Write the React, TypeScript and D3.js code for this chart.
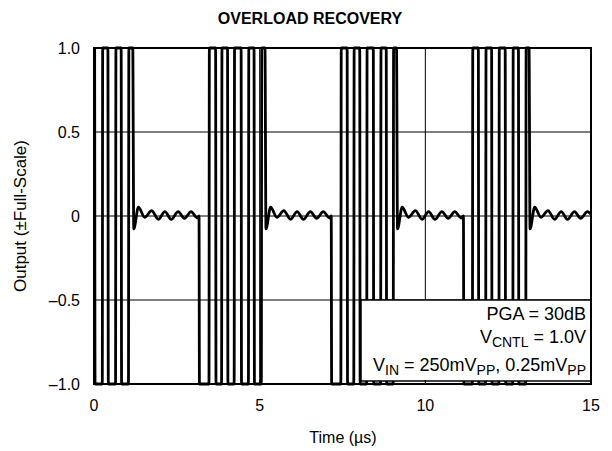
import React from 'react';
import * as d3 from 'd3';

// ---- data ----
const xTicks = [0, 5, 10, 15];
const xTickLabels = ['0', '5', '10', '15'];
const yTicks = [1.0, 0.5, 0, -0.5, -1.0];
const yTickLabels = ['1.0', '0.5', '0', '–0.5', '–1.0'];
const xGrid = [5, 10];
const yGrid = [0.5, 0, -0.5];

// toggle times (µs) of the clipped output inside each burst
const burst1Edges = [0.02, 0.25, 0.42, 0.65, 0.82, 1.04];
const burst2Edges = [3.17, 3.47, 3.67, 3.85, 4.03, 4.23, 4.44, 4.66, 4.83, 5.05];
const burst3Edges = [7.16, 7.45, 7.64, 7.84, 8.02, 8.23, 8.43, 8.65, 8.82, 9.03];
const burst4Edges = [11.15, 11.42, 11.6, 11.82, 12.0, 12.22, 12.41, 12.64, 12.81, 13.03];
// time at which each burst ends and the recovery ringing begins
const burstEnds = [1.17, 5.16, 9.13, 13.13];
// recovery ringing after a burst: offset from burst end (µs) and value (±FS)
const ringOffsets = [0.03, 0.17, 0.36, 0.57, 0.77, 0.97, 1.16, 1.37, 1.56, 1.76, 1.95];
const ringValues = [-0.077, 0.052, -0.008, 0.032, -0.02, 0.026, -0.02, 0.026, -0.014, 0.026, -0.012];

const W = 612;
const H = 451;
const M = { left: 94, right: 591, top: 48, bottom: 384 };

export default function App() {
  const x = d3.scaleLinear().domain([0, 15]).range([M.left, M.right]);
  const y = d3.scaleLinear().domain([-1, 1]).range([M.bottom, M.top]);

  const bursts = [burst1Edges, burst2Edges, burst3Edges, burst4Edges];
  const RISE = 0.012;
  const pts: [number, number][] = [];
  bursts.forEach((edges, i) => {
    const n = edges.length;
    const levelAfter = (j: number) => ((n - 1 - j) % 2 === 0 ? 1 : -1);
    edges.forEach((e, j) => {
      let prev: number;
      if (j === 0) prev = i === 0 ? -levelAfter(0) : 0;
      else prev = levelAfter(j - 1);
      pts.push([e, prev]);
      pts.push([e + RISE, levelAfter(j)]);
    });
    const end = burstEnds[i];
    pts.push([end, 1]);
    const nextStart = i < bursts.length - 1 ? bursts[i + 1][0] : 15.2;
    ringOffsets.forEach((o, k) => {
      const t = end + o;
      if (t < nextStart - 0.02) pts.push([t, ringValues[k]]);
    });
  });

  const line = d3
    .line<[number, number]>()
    .x((d) => x(d[0]))
    .y((d) => y(d[1]))
    .curve(d3.curveMonotoneX);

  const font = 'Liberation Sans, Arial, Helvetica, sans-serif';
  const lx = 586;

  return (
    <svg
      width={W}
      height={H}
      style={{ position: 'absolute', left: 0, top: 0, background: '#fff' }}
      fontFamily={font}
    >
      <defs>
        <clipPath id="plotclip">
          <rect x={M.left} y={M.top - 3} width={M.right - M.left} height={M.bottom - M.top + 6} />
        </clipPath>
      </defs>
      <rect x={0} y={0} width={W} height={H} fill="#fff" />
      <text x={310} y={24} textAnchor="middle" fontSize={16} fontWeight="bold" fill="#000">
        OVERLOAD RECOVERY
      </text>

      {/* grid */}
      {yGrid.map((v) => (
        <line key={'gy' + v} x1={M.left} x2={M.right} y1={y(v)} y2={y(v)} stroke="#000" strokeWidth={1} />
      ))}
      {xGrid.map((v) => (
        <line key={'gx' + v} x1={x(v)} x2={x(v)} y1={M.top} y2={M.bottom} stroke="#000" strokeWidth={1} />
      ))}

      {/* waveform */}
      <path
        d={line(pts) || ''}
        fill="none"
        stroke="#000"
        strokeWidth={2.8}
        strokeLinejoin="round"
        clipPath="url(#plotclip)"
      />

      {/* legend box */}
      <rect x={361} y={y(-0.5)} width={M.right - 361} height={381 - y(-0.5)} fill="#fff" stroke="#000" strokeWidth={1.5} />
      <text x={lx} y={320} textAnchor="end" fontSize={18} fill="#000">
        PGA = 30dB
      </text>
      <text x={lx} y={343} textAnchor="end" fontSize={18} fill="#000">
        V<tspan fontSize={14} dy={4}>CNTL</tspan>
        <tspan dy={-4}> = 1.0V</tspan>
      </text>
      <text x={lx} y={371} textAnchor="end" fontSize={18} fill="#000">
        V<tspan fontSize={14} dy={4}>IN</tspan>
        <tspan dy={-4}> = 250mV</tspan>
        <tspan fontSize={14} dy={4}>PP</tspan>
        <tspan dy={-4}>, 0.25mV</tspan>
        <tspan fontSize={14} dy={4}>PP</tspan>
      </text>

      {/* frame */}
      <rect x={M.left} y={M.top} width={M.right - M.left} height={M.bottom - M.top} fill="none" stroke="#000" strokeWidth={2} />
      {xGrid.map((v) => (
        <line key={'tk' + v} x1={x(v)} x2={x(v)} y1={M.bottom} y2={M.bottom - 4} stroke="#000" strokeWidth={1} />
      ))}

      {/* tick labels */}
      {xTicks.map((v, i) => (
        <text key={'xt' + v} x={x(v)} y={411} textAnchor="middle" fontSize={16} fill="#000">
          {xTickLabels[i]}
        </text>
      ))}
      {yTicks.map((v, i) => (
        <text key={'yt' + v} x={80} y={y(v) + 5.5} textAnchor="end" fontSize={16} fill="#000">
          {yTickLabels[i]}
        </text>
      ))}

      {/* axis titles */}
      <text x={343} y={443} textAnchor="middle" fontSize={16} fill="#000">
        Time (µs)
      </text>
      <text
        transform={`translate(26, ${(M.top + M.bottom) / 2}) rotate(-90)`}
        textAnchor="middle"
        fontSize={17}
        fill="#000"
      >
        Output (±Full-Scale)
      </text>
    </svg>
  );
}
